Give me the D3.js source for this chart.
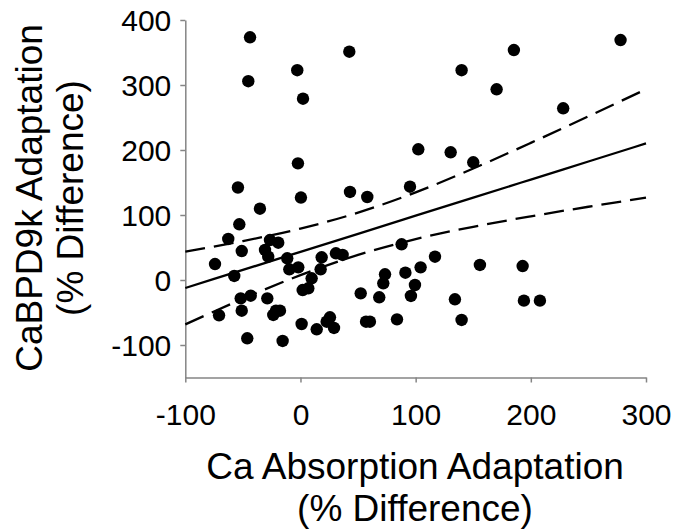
<!DOCTYPE html>
<html>
<head>
<meta charset="utf-8">
<script src="https://cdn.jsdelivr.net/npm/d3@7"></script>
<style>
  body { margin: 0; background: #fff; }
  text { font-family: "Liberation Sans", Arial, sans-serif; fill: #000; }
</style>
</head>
<body>
<div id="chart-area"></div>
<script>
// points: Ca absorption vs CaBPD9k adaptation (% difference)
const caAbs = [-43.8, -45.3, -2.8, 2.2, 42.4, -2.2, -54.3, 0.4, 43.0, 58.0,
  95.1, -35.2, -53.1, -62.7, -51.0, -74.2, -57.5, -26.5, -19.3, -30.8,
  -28.0, -11.5, -9.7, -1.9, 18.4, 17.5, 30.8, 36.6, 9.7, 1.9,
  6.8, 73.4, 71.9, 87.8, 91.1, 95.9, 52.3, 68.4, -51.9, -43.2,
  -28.8, -51.0, -70.7, -21.3, -23.6, -17.8, 1.0, 14.1, 25.6, 22.7,
  29.1, 56.9, 60.3, 83.8, -46.2, -15.5, 277.9, 185.3, 139.9, 170.3,
  228.1, 102.3, 130.4, 150.0, 116.8, 104.3, 99.4, 155.8, 192.9, 134.1,
  194.0, 207.9, 139.9];
const cabp = [373.4, 305.8, 322.8, 278.9, 351.2, 179.5, 142.3, 126.9, 135.4, 127.7,
  143.5, 109.7, 85.7, 63.1, 44.6, 24.6, 6.2, 61.5, 57.4, 46.2,
  35.8, 33.4, 16.5, 19.5, 34.9, 16.5, 41.1, 38.5, 2.6, -15.4,
  -12.8, 8.8, -5.1, 54.9, 11.2, -24.6, -20.5, -26.6, -28.2, -24.2,
  -28.2, -47.2, -54.3, -47.2, -53.8, -47.2, -67.7, -75.8, -57.4, -64.2,
  -73.8, -64.2, -64.2, -60.5, -89.7, -93.8, 369.2, 353.8, 322.8, 293.4,
  264.2, 201.1, 196.5, 181.1, 35.8, 19.5, -7.7, 23.1, 21.5, -29.7,
  -31.8, -31.8, -61.5];

// regression line and 95% band, read at a few x positions
const fitX = [-100, -50, 0, 50, 100, 150, 200, 250, 300];
const fitY = [-12.3, 15.5, 43.3, 71.1, 98.9, 126.7, 154.5, 182.3, 210.1];
const bandUpper = [43.7, 59.9, 79.1, 103.6, 134.9, 171.5, 211, 251.9, 293.5];
const bandLower = [-68.3, -28.9, 7.5, 38.6, 62.9, 81.9, 98, 112.7, 126.7];

const xTicks = [-100, 0, 100, 200, 300];
const yTicks = [-100, 0, 100, 200, 300, 400];

const width = 676, height = 529;

const svg = d3.select("#chart-area")
    .append("svg")
    .attr("width", width)
    .attr("height", height);

const x = d3.scaleLinear()
    .domain([-100, 300])
    .range([185.3, 646]);

const y = d3.scaleLinear()
    .domain([-150, 400])
    .range([377.5, 20]);

const axisColor = "#858585";
const plainNum = d => String(d);   // hyphen minus, like the original

// y axis
const yAxisGroup = svg.append("g")
    .attr("transform", `translate(${x(-100)},0)`)
    .call(d3.axisLeft(y).tickValues(yTicks).tickSize(5).tickSizeOuter(0).tickFormat(plainNum));

yAxisGroup.select(".domain").attr("stroke", axisColor).attr("stroke-width", 1.5);
yAxisGroup.selectAll(".tick line").attr("stroke", axisColor).attr("stroke-width", 1.5);
yAxisGroup.selectAll(".tick text")
    .attr("x", -14)
    .attr("dy", "0.35em")
    .attr("font-size", "30px")
    .attr("fill", "#000");

// x axis
const xAxisGroup = svg.append("g")
    .attr("transform", `translate(0,${y(-150)})`)
    .call(d3.axisBottom(x).tickValues(xTicks).tickSize(5).tickSizeOuter(0).tickFormat(plainNum));

xAxisGroup.select(".domain").attr("stroke", axisColor).attr("stroke-width", 1.5);
xAxisGroup.selectAll(".tick line").attr("stroke", axisColor).attr("stroke-width", 1.5);
xAxisGroup.selectAll(".tick text")
    .attr("y", 0)
    .attr("dy", 0)
    .attr("transform", "translate(0,47)")
    .attr("font-size", "30px")
    .attr("fill", "#000");

// fit lines
const line = d3.line()
    .x(d => x(d[0]))
    .y(d => y(d[1]))
    .curve(d3.curveMonotoneX);

svg.append("path")
    .datum(fitX.map((d, i) => [d, fitY[i]]))
    .attr("fill", "none")
    .attr("stroke", "#000")
    .attr("stroke-width", 2.3)
    .attr("d", line);

[bandUpper, bandLower].forEach(band => {
    svg.append("path")
        .datum(fitX.map((d, i) => [d, band[i]]))
        .attr("fill", "none")
        .attr("stroke", "#000")
        .attr("stroke-width", 2.3)
        .attr("stroke-dasharray", "20,9")
        .attr("d", line);
});

// points
svg.append("g")
    .selectAll("circle")
    .data(caAbs.map((d, i) => [d, cabp[i]]))
    .enter()
    .append("circle")
    .attr("cx", d => x(d[0]))
    .attr("cy", d => y(d[1]))
    .attr("r", 6.2)
    .attr("fill", "#000");

// axis titles
const xTitle = svg.append("text")
    .attr("text-anchor", "middle")
    .attr("font-size", "37px");
xTitle.append("tspan").attr("x", 415).attr("y", 479).text("Ca Absorption Adaptation");
xTitle.append("tspan").attr("x", 415).attr("y", 521).text("(% Difference)");

const yTitle = svg.append("text")
    .attr("text-anchor", "middle")
    .attr("font-size", "37px")
    .attr("transform", "translate(0,198) rotate(-90)");
yTitle.append("tspan").attr("x", 0).attr("y", 42).text("CaBPD9k Adaptation");
yTitle.append("tspan").attr("x", 0).attr("y", 83).text("(% Difference)");
</script>
</body>
</html>
